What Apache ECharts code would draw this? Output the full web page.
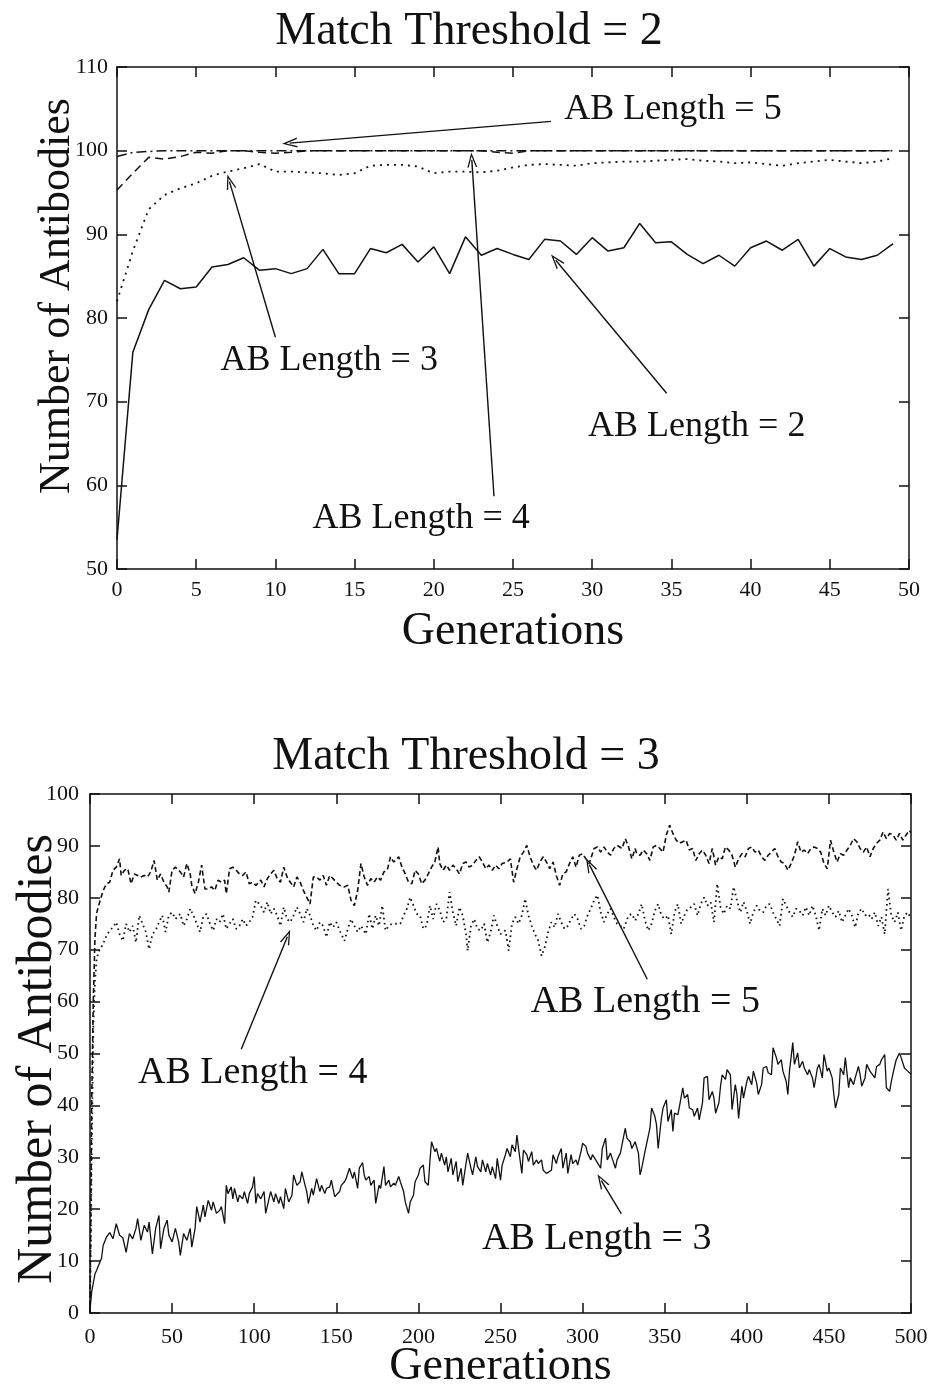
<!DOCTYPE html>
<html>
<head>
<meta charset="utf-8">
<script src="https://cdn.jsdelivr.net/npm/echarts@6/dist/echarts.min.js"></script>
<style>
  html, body { margin: 0; padding: 0; background: #fff; }
  #chart { width: 928px; height: 1388px; }
</style>
</head>
<body>
<div id="chart"></div>
<script>
// ---------------- DATA: Match Threshold = 2 (generations 0..49) ----------------
const thr2Gen = [0,1,2,3,4,5,6,7,8,9,10,11,12,13,14,15,16,17,18,19,20,21,22,23,24,25,26,27,28,29,30,31,32,33,34,35,36,37,38,39,40,41,42,43,44,45,46,47,48,49];
const thr2Len2 = [53.5,75.9,81.0,84.5,83.5,83.7,86.1,86.4,87.2,85.7,85.9,85.3,85.9,88.2,85.3,85.3,88.3,87.8,88.8,86.7,88.5,85.3,89.7,87.5,88.3,87.6,87.0,89.4,89.2,87.6,89.6,88.0,88.4,91.3,89.0,89.1,87.6,86.5,87.5,86.2,88.4,89.2,88.1,89.4,86.2,88.3,87.3,87.0,87.5,88.9];
const thr2Len3 = [82.0,88.0,93.0,94.7,95.5,96.1,97.0,97.5,97.9,98.4,97.5,97.5,97.4,97.3,97.1,97.3,98.2,98.3,98.3,98.1,97.3,97.5,97.5,97.4,97.6,98.0,98.3,98.4,98.3,98.2,98.5,98.6,98.7,98.7,98.8,98.9,99.0,98.8,98.7,98.5,98.6,98.4,98.2,98.5,98.7,98.9,98.7,98.5,98.7,99.1];
const thr2Len4 = [95.3,97.3,99.2,99.0,99.3,99.8,99.7,100,100,99.8,99.7,99.8,100,100,100,100,100,100,100,100,100,100,100,100,99.8,99.7,100,100,100,100,100,100,100,100,100,100,100,100,100,100,100,100,100,100,100,100,100,100,100,100];
const thr2Len5 = [99.3,99.8,99.9,100,100,100,100,100,100,100,100,100,100,100,100,100,100,100,100,100,100,100,100,100,100,100,100,100,100,100,100,100,100,100,100,100,100,100,100,100,100,100,100,100,100,100,100,100,100,100];

// ---------------- DATA: Match Threshold = 3 ([generation, antibodies]) ----------------
const thr3Len3 = [[0,0.5],[1,4],[3,7.5],[4,8.2],[6,9.8],[7,10.5],[8,13],[10,14.6],[12,15.5],[14,14.3],[16,17.2],[18,15],[20,14.5],[22,11.7],[24,15.3],[26,14.3],[28,16.3],[29,18.2],[31,14],[33,16.9],[35,15.6],[36,17.5],[38,11.4],[40,16.3],[42,18.8],[43,12.4],[45,16.3],[47,17.9],[48,15],[50,13.7],[52,16.3],[54,13.7],[55,11.1],[57,15.3],[59,14],[61,16.3],[62,12.7],[64,16.3],[65,20.5],[67,17.5],[69,20.8],[70,18.5],[72,21.7],[74,19.8],[75,21.4],[77,19.2],[79,19.8],[80,20.5],[82,17.2],[83,24.6],[84,23],[86,24.3],[87,22],[88,24],[90,21.4],[91,22.7],[93,22],[94,23.4],[96,21.1],[97,23],[99,24.3],[100,26.3],[101,21.1],[102,23],[104,22],[106,23.4],[107,19.2],[109,22],[110,23.4],[112,21.4],[113,23],[115,21.1],[116,22.4],[118,20.1],[119,24],[121,21.4],[123,22.7],[124,26.6],[126,24.6],[128,25.3],[129,27.2],[131,24.6],[132,23.4],[133,21.1],[135,24],[136,22.7],[138,25.9],[140,23.4],[141,24.6],[143,23],[144,24],[146,24.3],[147,25.6],[149,22.4],[150,22.7],[152,23.4],[153,24.6],[155,25.3],[156,25.9],[158,27.9],[160,25.9],[161,27.2],[163,24],[164,27.9],[166,29.0],
[167,26.6],[168,25.6],[170,26.3],[171,24.6],[173,25.6],[174,21.1],[176,24.6],[177,24],[179,28.2],[180,24.6],[182,25.6],[183,24.3],[185,25],[186,24.6],[188,26.3],[189,25.3],[191,23.4],[192,21.4],[194,19.2],[195,21.4],[197,22.7],[198,25.3],[200,26.6],[201,27.9],[203,28.5],[204,25.3],[206,24.6],[207,29.2],[208,33],[210,31.1],[211,31.7],[213,29.2],[214,30.8],[216,28.5],[217,30.1],[218,27.2],[220,29.8],[221,26.6],[223,29.2],[224,25.3],[226,27.9],[227,24.6],[229,28.8],[230,30.8],[232,27.9],[233,26.6],[235,30.1],[236,28.2],[238,27.2],[239,29.5],[241,27.2],[242,28.8],[244,26.6],[245,28.2],[247,25.9],[248,29.8],[250,25.6],[251,28.5],[253,30.5],[254,31.7],[256,30.1],[257,32.4],[259,31.1],[260,34.3],[261,31.7],[263,26.9],[264,31.4],[266,30.5],[267,29.2],[269,31.1],[270,28.5],[272,29.5],[273,28.8],[275,29.5],[276,27.5],[278,26.9],[279,26.6],[281,27.5],[282,30.5],[284,28.8],[285,30.1],[287,31.7],[288,27.9],[290,30.8],[291,26.9],[293,30.5],[294,28.8],[296,29.5],[297,28.5],[299,31.1],[300,32.7],[302,32.1],[303,30.8],[305,29.5],[306,30.5],[308,29.5],[309,29.2],[311,27.9],[312,31.7],[314,33.7],[315,29.5],[317,30.8],[318,29.8],[320,27.9],[321,29.5],[323,30.8],[324,32.4],[326,35.6],[327,33.7],[329,33],[330,31.7],[332,33],
[334,30.8],[335,26.6],[336,27.9],[338,31.1],[339,31.1],[341,35.6],[342,39.5],[344,37.9],[345,36.3],[346,31.7],[348,37.5],[349,39.5],[351,41.1],[352,36.9],[354,39.2],[355,35],[356,38.5],[358,38.2],[359,39.8],[361,43.4],[362,41.4],[364,42.1],[365,39.5],[367,39.2],[368,37.9],[370,39.5],[371,37.2],[373,40.5],[374,45.3],[376,45.6],[377,41.1],[379,42.7],[380,41.4],[381,38.5],[383,40.5],[384,43.7],[385,45.9],[387,45],[388,46.9],[390,45.9],[391,39.2],[393,44],[394,42.1],[395,37.5],[397,43.7],[398,41.4],[400,44.6],[401,45.6],[403,44],[404,46.6],[406,44.3],[407,42.1],[409,44],[410,47.2],[412,47.5],[413,46.3],[415,45.9],[416,51.1],[418,49.2],[419,47.9],[421,48.8],[422,46.6],[424,44.6],[425,42.1],[426,46.6],[428,52.1],[429,47.9],[431,50.1],[432,47.2],[434,48.5],[435,47.2],[437,45.9],[438,46.9],[440,45.3],[441,43.4],[443,47.2],[444,47.9],[446,45.3],[447,49.8],[449,46.6],[450,47.2],[452,45.3],[453,42.1],[454,39.5],[456,42.1],[457,47.2],[459,45.9],[460,49.2],[462,43.4],[463,45.3],[465,44],[466,45.3],[468,47.5],[469,45.9],[470,43.7],[472,45.3],[473,47.9],[475,46.6],[476,46.9],[478,45.3],[479,47.5],[481,47.9],[482,48.8],[484,49.8],[485,43.4],[487,42.7],[488,44.6],[490,47.5],[491,48.8],[493,50.1],[494,49.2],[496,47.2],[498,46.6],[500,46]];

const thr3Len4 = [[0,0],[1,30],[2,55],[3,64],[4,68],[5,69.5],[8,71.1],[10,72.7],[12,73.7],[14,74.3],[16,75.3],[18,73],[20,71.7],[22,75],[24,73.4],[26,74.6],[28,71.4],[30,76.6],[32,75],[34,73.4],[36,70.1],[38,73],[40,73.7],[42,75.3],[44,76.6],[46,73.4],[48,76.6],[50,77.2],[52,75.9],[55,76.9],[57,74.6],[59,75.9],[61,77.9],[63,76.6],[65,75],[67,73.4],[69,76.3],[71,76.9],[73,75],[75,73.7],[77,75.9],[79,75.3],[81,76.9],[83,74],[85,75],[87,75.9],[89,74],[91,74.6],[93,75.9],[95,74.6],[97,75.3],[99,76.3],[101,79.5],[104,78.5],[106,77.2],[108,79.2],[110,76.9],[112,77.9],[114,76.6],[116,74.6],[118,78.2],[120,75.9],[122,75.3],[124,76.6],[126,78.2],[128,76.9],[130,75.3],[132,77.9],[134,76.6],[136,74.6],[138,73.7],[140,75.3],[142,74.6],[144,72.4],[146,75.3],[148,74.3],[150,75.3],[152,73.7],[155,71.7],[157,74],[159,75.9],[161,74.6],[163,73.4],[165,74.6],
[168,73],[170,76.9],[172,74],[174,76.6],[176,74.6],[178,78.5],[180,73.7],[182,74.6],[184,75],[186,75],[189,75],[191,76.6],[193,77.9],[195,80.1],[197,78.5],[199,76.9],[201,76.6],[203,74],[205,74.6],[207,78.5],[209,75.9],[211,78.8],[213,77.6],[215,75.3],[217,75.9],[219,81.1],[221,77.2],[223,74.6],[225,78.2],[227,76.6],[229,73],[230,69.8],[232,74.6],[234,75.9],[236,74],[238,73.7],[240,75],[242,71.4],[244,73.4],[246,76.6],[248,74.6],[250,73],[253,73.7],[255,69.8],[257,75],[259,76.3],[261,75],[263,76.6],[265,79.8],[267,76.6],[269,74.6],[271,73],[273,71.7],[275,68.8],[277,70.5],[279,73.4],[281,75.3],[283,74.3],[285,76.9],[287,75.3],[289,74],[291,74.6],[293,75.9],[295,76.9],[297,75.9],[299,74],[301,74.6],[303,76.6],[305,77.9],[307,79.5],[309,80.5],[311,77.2],[313,75.3],[315,76.9],[317,77.9],[319,76.3],[321,75],[323,74.6],[325,74],[328,76.6],[330,76.9],[332,75.6],
[334,76.9],[336,78.8],[338,75.6],[340,73.7],[342,75],[344,77.5],[346,78.8],[348,76.6],[350,75.9],[352,76.6],[354,73],[356,77.2],[358,78.8],[360,75],[362,76.6],[364,77.9],[366,78.2],[368,78.8],[370,76.6],[372,78.8],[374,80.1],[376,78.5],[378,79.2],[380,75.3],[382,82.7],[384,78.2],[386,76.9],[388,78.5],[390,77.9],[392,82.1],[394,79.5],[396,77.2],[398,79.2],[400,77.5],[402,75],[404,77.2],[406,78.5],[408,77.5],[410,77.2],[412,78.5],[414,78.8],[416,77.2],[418,75.9],[420,74.6],[422,79.8],[424,78.5],[426,77.2],[428,76.3],[430,77.9],[432,77.5],[434,76.6],[436,78.2],[438,76.6],[440,78.5],[442,76.6],[444,73.7],[446,77.9],[448,76.6],[450,78.5],[452,77.2],[454,76.3],[456,77.5],[458,75.3],[460,76.6],[462,77.9],[464,76.6],[466,74.3],[468,77.2],[470,77.9],[472,76.6],[474,76.9],[476,75.9],[478,77.2],[480,74.6],[482,76.3],[484,73],[486,81.7],[488,76.6],[490,75.3],[492,77.2],[494,73.7],[496,76.6],[498,77.2],[500,76]];

const thr3Len5 = [[0,0],[1,40],[2,60],[3,72],[4,77],[5,78.2],[8,81.4],[10,82.7],[12,83],[14,85.3],[16,85.9],[18,87.5],[19,84.3],[21,85.3],[23,85.6],[25,82.7],[27,84.6],[29,84.3],[31,84],[33,84.3],[35,84],[37,85],[39,87.2],[41,83.4],[43,84.6],[45,83],[47,82.1],[48,81.1],[50,85.3],[52,85.9],[55,85],[57,84],[59,86.6],[61,84.6],[62,82.4],[64,80.8],[66,83],[68,86.3],[70,81.7],[72,81.7],[74,82.1],[76,81.4],[78,83.4],[80,83],[82,83.4],[83,80.8],[85,85.6],[87,85.9],[89,85.3],[91,84.6],[93,84.3],[95,85],[97,82.7],[99,83],[101,82.4],[104,83.4],[106,82.1],[108,83.7],[110,84.6],[112,85.3],[114,83.7],[116,83],[118,85.9],[120,84],[122,83],[124,82.1],[126,84],[128,83],[130,81.4],[132,80.1],[134,78.8],[136,84],[138,84],[140,83.4],[142,84.3],[144,82.4],[146,84.3],[148,83.7],[150,83],[152,82.4],[155,82.1],[157,82.4],[159,79.5],[161,78.5],[163,81.4],[165,86.6],
[167,84],[169,82.4],[171,83.7],[173,83],[175,84],[177,83.4],[179,85],[181,85.3],[183,87.9],[185,86.9],[188,87.9],[190,85.9],[192,84.6],[194,83],[196,82.7],[198,85.3],[200,84.6],[202,82.7],[204,83.4],[206,84.6],[208,85.9],[210,86.9],[212,89.8],[213,86.6],[215,85.3],[217,86.3],[219,85.3],[221,86.3],[223,85.6],[225,84.6],[227,86.6],[229,86.9],[231,85.9],[233,86.3],[235,87.2],[237,87.9],[239,86.9],[241,85.6],[243,86.3],[245,85.3],[247,86.3],[249,85.6],[251,86.6],[254,86.9],[256,87.5],[258,83],[260,85.6],[262,87.9],[264,88.8],[266,90.1],[268,87.9],[270,86.3],[272,85.3],[274,86.9],[276,87.9],[278,86.9],[280,85.6],[282,86.9],[284,84.3],[286,82.4],[288,84.6],[290,85],[292,86.6],[294,87.9],[296,85.9],[298,88.2],[300,88.5],[302,87.5],[304,86.6],[307,89.5],[309,89.8],[311,88.8],[313,89.8],[315,88.8],[317,88.2],[319,89.5],[321,90.1],[324,89.5],[326,91.4],[328,89.8],[330,87.5],[332,89.5],
[333,88.5],[335,88.2],[337,89.2],[339,88.5],[341,87.2],[343,89.8],[345,90.1],[347,89.5],[349,88.8],[351,92.1],[353,94],[355,92.4],[357,91.1],[359,90.5],[361,90.8],[363,91.1],[365,89.2],[367,89.5],[369,87.2],[371,88.5],[373,89.2],[375,88.2],[377,86.6],[379,89.5],[381,86.3],[383,87.9],[385,87.5],[387,89.8],[389,89.2],[391,88.2],[393,85.9],[395,87.5],[397,88.5],[399,87.9],[401,89.5],[403,89.8],[405,88.8],[407,89.2],[409,87.9],[411,87.2],[413,88.2],[415,88.8],[417,89.5],[419,87.9],[421,86.9],[423,86.6],[425,85.3],[427,86.6],[429,88.2],[431,90.8],[433,88.8],[435,89.2],[437,88.5],[439,89.5],[441,89.8],[443,89.5],[445,88.8],[447,86.6],[449,85.6],[451,91.1],[453,88.8],[455,86.9],[457,88.5],[459,88.2],[461,89.2],[463,90.1],[465,91.4],[467,90.8],[469,89.5],[471,88.8],[473,89.8],[475,87.9],[477,89.5],[479,90.5],[481,91.1],[483,92.7],[485,91.4],[487,92.4],[489,92.1],[491,91.1],[493,92.4],[495,91.1],[497,92.1],[499,93],[500,92.5]];

// ---------------- ANNOTATIONS (data coordinates) ----------------
const thr2Notes = [
  { text: 'AB Length = 5', at: [35.1, 104.9], from: [27.4, 103.5], to: [10.9, 100.9] },
  { text: 'AB Length = 3', at: [13.4, 74.9],  from: [10.0, 77.7],  to: [7.1, 96.3] },
  { text: 'AB Length = 4', at: [19.2, 56.0],  from: [23.8, 58.7],  to: [22.4, 98.9] },
  { text: 'AB Length = 2', at: [36.6, 67.0],  from: [34.7, 71.0],  to: [27.7, 86.9] }
];
const thr3Notes = [
  { text: 'AB Length = 4', at: [99.1, 46.3],  from: [92.1, 50.8],  to: [120.2, 72.5] },
  { text: 'AB Length = 5', at: [338.2, 60.0], from: [339.4, 64.3], to: [304.1, 86.4] },
  { text: 'AB Length = 3', at: [308.6, 14.2], from: [323.6, 19.1], to: [311.4, 25.5] }
];

// ---------------- CHART ----------------
const FONT = "'Liberation Serif', 'Times New Roman', serif";
const INK = '#111';
const chart = echarts.init(document.getElementById('chart'), null, { renderer: 'canvas' });

const ARROW = 'path://M50,0 L100,100 L86,100 L50,26 L14,100 L0,100 Z';

function notesSeries(notes, xi, yi, fs) {
  return {
    type: 'line', xAxisIndex: xi, yAxisIndex: yi, data: [], silent: true,
    markLine: {
      silent: true, animation: false,
      symbol: ['none', ARROW], symbolSize: [10, 15],
      lineStyle: { color: INK, width: 1.4, type: 'solid' },
      label: { show: false },
      data: notes.map(n => [{ coord: n.from }, { coord: n.to }])
    },
    markPoint: {
      silent: true, animation: false,
      symbol: 'circle', symbolSize: 1,
      itemStyle: { color: 'rgba(0,0,0,0)' },
      label: { show: true, position: 'inside', formatter: p => p.name,
               fontFamily: FONT, fontSize: fs, color: INK },
      data: notes.map(n => ({ name: n.text, coord: n.at }))
    }
  };
}

function frameAxes(cfg) {
  const lineStyle = { color: INK, width: 1.5 };
  const tick = { show: true, inside: true, length: 10, lineStyle: { color: INK, width: 1.5 } };
  return {
    x: [
      { type: 'value', gridIndex: cfg.grid, min: cfg.xmin, max: cfg.xmax, interval: cfg.xint, position: 'bottom',
        axisLine: { show: true, onZero: false, lineStyle }, axisTick: tick,
        axisLabel: { fontFamily: FONT, fontSize: 22, color: INK, margin: cfg.xLabMargin },
        splitLine: { show: false },
        name: 'Generations', nameLocation: 'middle', nameGap: cfg.xNameGap, nameMoveOverlap: false,
        nameTextStyle: { fontFamily: FONT, fontSize: cfg.xNameSize, color: INK } },
      { type: 'value', gridIndex: cfg.grid, min: cfg.xmin, max: cfg.xmax, interval: cfg.xint, position: 'top',
        axisLine: { show: true, onZero: false, lineStyle }, axisTick: tick, axisLabel: { show: false },
        splitLine: { show: false } }
    ],
    y: [
      { type: 'value', gridIndex: cfg.grid, min: cfg.ymin, max: cfg.ymax, interval: cfg.yint, position: 'left',
        axisLine: { show: true, onZero: false, lineStyle }, axisTick: tick,
        axisLabel: { fontFamily: FONT, fontSize: 22, color: INK, margin: cfg.yLabMargin },
        splitLine: { show: false },
        name: 'Number of Antibodies', nameLocation: 'middle', nameGap: cfg.yNameGap, nameMoveOverlap: false,
        nameTextStyle: { fontFamily: FONT, fontSize: cfg.yNameSize, color: INK, padding: cfg.yNamePad } },
      { type: 'value', gridIndex: cfg.grid, min: cfg.ymin, max: cfg.ymax, interval: cfg.yint, position: 'right',
        axisLine: { show: true, onZero: false, lineStyle }, axisTick: tick, axisLabel: { show: false },
        splitLine: { show: false } }
    ]
  };
}

const a1 = frameAxes({ grid: 0, xmin: 0, xmax: 50, xint: 5, ymin: 50, ymax: 110, yint: 10,
  xLabMargin: 10, yLabMargin: 9, xNameGap: 40, yNameGap: 38, xNameSize: 46, yNameSize: 44, yNamePad: [0, 0, 0, 44] });
const a2 = frameAxes({ grid: 1, xmin: 0, xmax: 500, xint: 50, ymin: 0, ymax: 100, yint: 10,
  xLabMargin: 13, yLabMargin: 11, xNameGap: 31, yNameGap: 27, xNameSize: 46, yNameSize: 50, yNamePad: [0, 11, 0, 0] });

const pairs = (xs, ys) => xs.map((x, i) => [x, ys[i]]);

const option = {
  backgroundColor: '#fff',
  animation: false,
  title: [
    { text: 'Match Threshold = 2', left: 464, top: 4, textAlign: 'center',
      textStyle: { fontFamily: FONT, fontSize: 46, fontWeight: 'normal', color: INK } },
    { text: 'Match Threshold = 3', left: 461, top: 729, textAlign: 'center',
      textStyle: { fontFamily: FONT, fontSize: 46, fontWeight: 'normal', color: INK } }
  ],
  grid: [
    { left: 117, right: 19, top: 67, height: 502, containLabel: false, outerBoundsMode: 'none' },
    { left: 90, right: 17, top: 794, height: 519, containLabel: false, outerBoundsMode: 'none' }
  ],
  xAxis: [...a1.x, ...a2.x],
  yAxis: [...a1.y, ...a2.y],
  series: [
    { name: 'T2 AB2', type: 'line', xAxisIndex: 0, yAxisIndex: 0, data: pairs(thr2Gen, thr2Len2),
      showSymbol: false, lineStyle: { color: INK, width: 1.5, type: 'solid' } },
    { name: 'T2 AB3', type: 'line', xAxisIndex: 0, yAxisIndex: 0, data: pairs(thr2Gen, thr2Len3),
      showSymbol: false, lineStyle: { color: INK, width: 1.8, type: [2, 5] } },
    { name: 'T2 AB4', type: 'line', xAxisIndex: 0, yAxisIndex: 0, data: pairs(thr2Gen, thr2Len4),
      showSymbol: false, lineStyle: { color: INK, width: 1.5, type: [8, 5] } },
    { name: 'T2 AB5', type: 'line', xAxisIndex: 0, yAxisIndex: 0, data: pairs(thr2Gen, thr2Len5),
      showSymbol: false, lineStyle: { color: INK, width: 1.5, type: [10, 4, 2, 4] } },
    notesSeries(thr2Notes, 0, 0, 36),

    { name: 'T3 AB3', type: 'line', xAxisIndex: 2, yAxisIndex: 2, data: thr3Len3,
      showSymbol: false, lineStyle: { color: INK, width: 1.3, type: 'solid' } },
    { name: 'T3 AB4', type: 'line', xAxisIndex: 2, yAxisIndex: 2, data: thr3Len4,
      showSymbol: false, lineStyle: { color: INK, width: 1.8, type: [1.6, 3.5] } },
    { name: 'T3 AB5', type: 'line', xAxisIndex: 2, yAxisIndex: 2, data: thr3Len5,
      showSymbol: false, lineStyle: { color: INK, width: 1.6, type: [5, 3] } },
    notesSeries(thr3Notes, 2, 2, 38)
  ]
};
chart.setOption(option);
</script>
</body>
</html>
